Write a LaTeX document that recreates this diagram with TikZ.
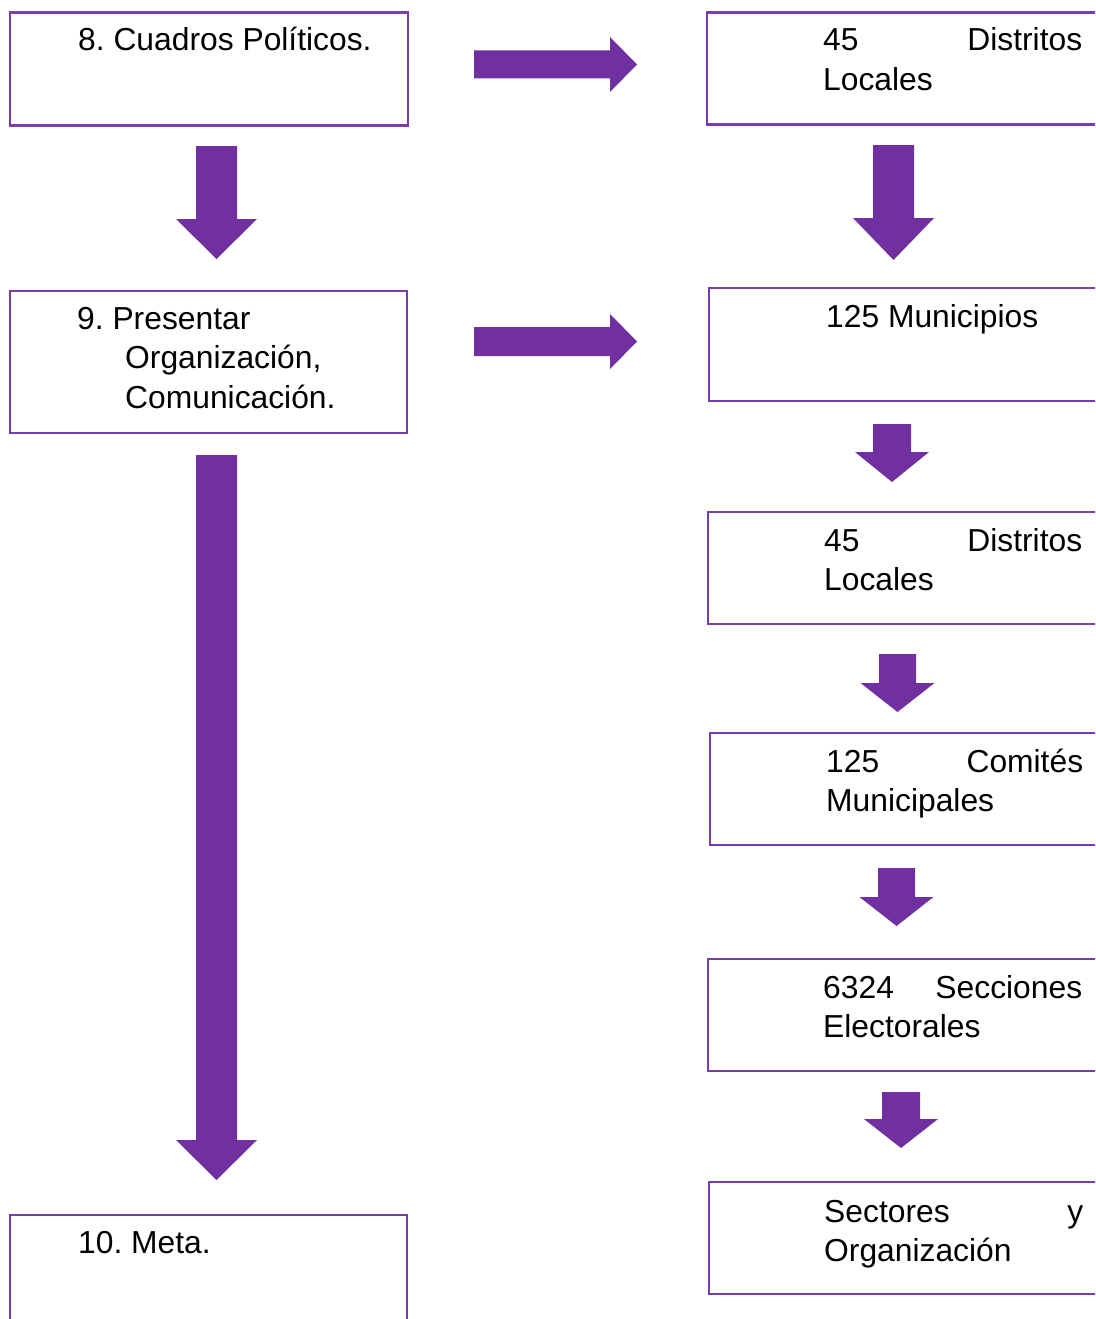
\documentclass[tikz,border=0pt]{standalone}
\usepackage{fontspec}
\setmainfont{Liberation Sans}
\frenchspacing
\definecolor{violetfill}{HTML}{7030A0}
\definecolor{violetline}{HTML}{7A3DB0}
% stacked text lines with a fixed baseline distance; baseline = first line
\newcommand\boxlines[1]{\vtop{\baselineskip=39.5pt\lineskiplimit=-100pt #1}}
% block arrow pointing down: centre x, top, neck, tip, shaft half-width, head half-width
\newcommand\downblock[6]{%
  \fill[violetfill] ({#1-#5},#2) -- ({#1+#5},#2) -- ({#1+#5},#3) -- ({#1+#6},#3)
    -- (#1,#4) -- ({#1-#6},#3) -- ({#1-#5},#3) -- cycle;}
% block arrow pointing right: centre y, left, neck, tip, shaft half-height, head half-height
\newcommand\rightblock[6]{%
  \fill[violetfill] (#2,{#1-#5}) -- (#3,{#1-#5}) -- (#3,{#1-#6}) -- (#4,#1)
    -- (#3,{#1+#6}) -- (#3,{#1+#5}) -- (#2,{#1+#5}) -- cycle;}
\begin{document}
\begin{tikzpicture}[x=1pt,y=-1pt,
  box/.style={draw=violetline, line width=2.6pt, fill=white, inner sep=0pt,
    anchor=north west},
  label/.style={anchor=base west, inner sep=0pt, align=left,
    font=\fontsize{31.8}{39.5}\selectfont}]
\useasboundingbox (0,0) rectangle (1095,1319);
\clip (0,0) rectangle (1095,1319);
\fill[white] (0,0) rectangle (1095,1319);

% left column
\node[box, minimum width=398pt, minimum height=113pt] (b8) at (8.5,11.5) {};
\node[label] (t8) at (78,51) {8. Cuadros Políticos.};
\node[box, minimum width=397pt, minimum height=142pt] (b9) at (8.5,289.5) {};
\node[label] (t9) at (77,329) {\boxlines{\hbox{9. Presentar}\hbox{\kern48pt Organización,}\hbox{\kern48pt Comunicación.}}};
\node[box, minimum width=397pt, minimum height=140pt] (b10) at (8.5,1213.5) {};
\node[label] (t10) at (78,1253) {10. Meta.};

% right column (boxes run past the right edge)
\node[box, minimum width=420pt, minimum height=112pt] (r1) at (705.5,11.5) {};
\node[label] (u1) at (823,51) {\boxlines{\hbox to 259pt{45\hfill Distritos}\hbox{Locales}}};
\node[box, minimum width=420pt, minimum height=113pt] (r2) at (707.5,286.5) {};
\node[label] (u2) at (826,327) {125 Municipios};
\node[box, minimum width=420pt, minimum height=112pt] (r3) at (706.5,510.5) {};
\node[label] (u3) at (824,551) {\boxlines{\hbox to 258pt{45\hfill Distritos}\hbox{Locales}}};
\node[box, minimum width=420pt, minimum height=112pt] (r4) at (708.5,731.5) {};
\node[label] (u4) at (826,772) {\boxlines{\hbox to 257pt{125\hfill Comités}\hbox{Municipales}}};
\node[box, minimum width=420pt, minimum height=112pt] (r5) at (706.5,957.5) {};
\node[label] (u5) at (823,998) {\boxlines{\hbox to 259pt{6324\hfill Secciones}\hbox{Electorales}}};
\node[box, minimum width=420pt, minimum height=112pt] (r6) at (707.5,1180.5) {};
\node[label] (u6) at (824,1222) {\boxlines{\hbox to 259pt{Sectores\hfill y}\hbox{Organización}}};

% block arrows
\rightblock{64.5}{474}{610}{637}{14}{27.5}
\rightblock{341.5}{474}{610}{637}{14.5}{27.5}
\downblock{216.5}{146}{219}{259}{20.5}{40.5}
\downblock{216.5}{455}{1140}{1180}{20.5}{40.5}
\downblock{893.5}{145}{218}{260}{20.5}{40.5}
\downblock{892}{424}{452}{482}{19}{37}
\downblock{897.5}{654}{683}{712}{18.5}{37}
\downblock{896.5}{868}{897}{926}{18.5}{37}
\downblock{901}{1092}{1119}{1148}{19}{37}
\end{tikzpicture}
\end{document}
